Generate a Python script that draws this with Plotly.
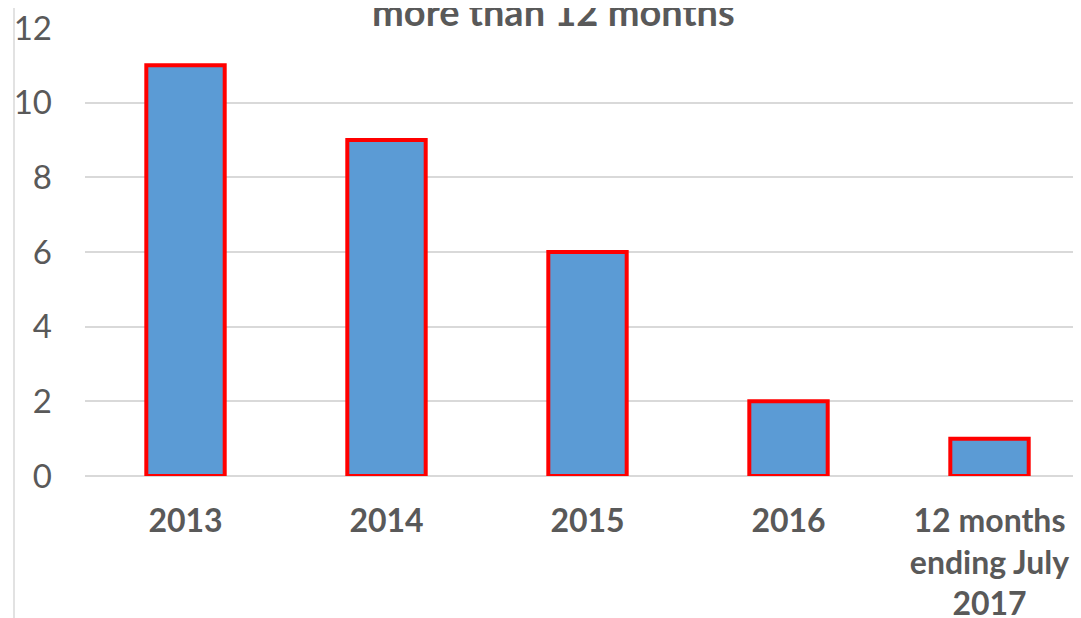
import plotly.graph_objects as go

categories = ["2013", "2014", "2015", "2016", "12 months<br>ending July<br>2017"]
values = [11, 9, 6, 2, 1]
y_ticks = [0, 2, 4, 6, 8, 10, 12]
title_text = "more than 12 months"

OFF = 8  # page body margin offset
W, H = 1081 - OFF, 618 - OFF
L, R, T, B = 85 - OFF, 0, 28 - OFF, 142
pw, ph = W - L - R, H - T - B

FONT = "Lato, sans-serif"

fig = go.Figure(go.Bar(
    x=categories, y=values,
    width=0.39,
    marker=dict(color="#5B9BD5", line=dict(color="#FF0000", width=4)),
))

fig.update_layout(
    width=W, height=H,
    margin=dict(l=L, r=R, t=T, b=B, pad=0, autoexpand=False),
    paper_bgcolor="white", plot_bgcolor="white",
    showlegend=False,
    font=dict(family=FONT, color="#595959"),
    xaxis=dict(
        range=[-0.5, -0.5 + pw / 201.0],
        showgrid=False, showline=False, zeroline=False,
        ticks="", tickfont=dict(size=32, color="#595959", family=FONT, weight="bold"),
        ticklabelstandoff=23, automargin=False,
    ),
    yaxis=dict(
        range=[0, 12], tickvals=y_ticks,
        showgrid=True, gridcolor="#D9D9D9", gridwidth=1.5,
        zeroline=True, zerolinecolor="#D9D9D9", zerolinewidth=1.5,
        showline=False, ticks="",
        tickfont=dict(size=33, color="#595959", family=FONT),
        ticklabelstandoff=32,
        ticklabeloverflow="allow", automargin=False,
    ),
    annotations=[dict(
        text="<b>" + title_text + "</b>",
        xref="paper", yref="paper", x=(553 - 85) / pw, y=1,
        xanchor="center", yanchor="bottom", yshift=-8,
        showarrow=False, font=dict(size=38, color="#595959", family=FONT),
    )],
    shapes=[dict(
        type="line", xref="paper", yref="paper",
        x0=(14 - 85) / pw, x1=(14 - 85) / pw,
        y0=-(B) / ph, y1=1 + T / ph,
        line=dict(color="#D9D9D9", width=1.5),
    )],
)

fig.write_html("out.html")
